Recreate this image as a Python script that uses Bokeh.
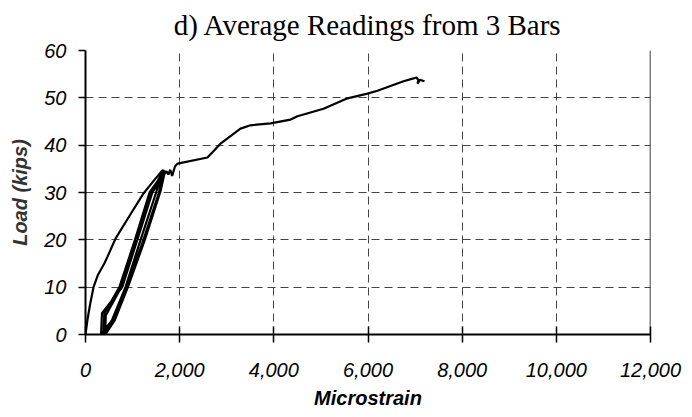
from bokeh.plotting import figure
from bokeh.models import Range1d, FixedTicker, NumeralTickFormatter, Span
from bokeh.embed import file_html
from bokeh.resources import INLINE

# Data (microstrain, load in kips)
strain = [0, 40, 100, 170, 260, 400, 470, 640, 900, 1232, 1450, 1593, 1640,
          1500, 1170, 850, 560, 330,
          350, 780, 1100, 1400, 1660,
          1560, 1230, 880, 600, 380,
          400, 720, 1050, 1360, 1690,
          1600, 1260, 900, 620, 420,
          430, 760, 1100, 1420, 1720,
          1760, 1800, 1840, 1900, 1954, 2591, 2867, 3292, 3504, 3929, 4354,
          4502, 5055, 5565, 5989, 6201, 6754, 6966, 7030, 7072, 7051, 7100, 7200]
load = [0, 3, 6.5, 10, 12.5, 15, 16.5, 20.3, 24.5, 29.8, 32.5, 34.2, 34.7,
        30, 20, 10, 3, 0,
        4.5, 10, 20, 30, 34.8,
        30, 20, 10, 3, 0,
        4.5, 10, 20, 30, 34.6,
        30.5, 20, 10, 3, 0,
        4, 10, 20, 30, 34.5,
        33.8, 34.8, 33.5, 35.5, 36.1, 37.4, 40.3, 43.5, 44.2, 44.6, 45.4,
        46.1, 47.7, 49.9, 50.9, 51.5, 53.5, 54.1, 54.3, 53.7, 53.0, 53.8, 53.5]

x_ticks = [0, 2000, 4000, 6000, 8000, 10000, 12000]
y_ticks = [0, 10, 20, 30, 40, 50, 60]
title_text = "d) Average Readings from 3 Bars"

p = figure(width=690, height=416, output_backend="svg", toolbar_location=None,
           x_range=Range1d(0, 12000), y_range=Range1d(0, 60),
           frame_width=565, frame_height=284,
           min_border_left=85, min_border_right=40, min_border_top=50, min_border_bottom=82,
           title=title_text)
p.outline_line_color = None
p.background_fill_color = "white"
p.border_fill_color = "white"

p.title.align = "center"
p.title.vertical_align = "top"
p.title.text_font = "Liberation Serif"
p.title.text_font_style = "normal"
p.title.text_font_size = "29px"
p.title.text_color = "black"
p.title.offset = 0
p.title.standoff = 15

p.line(strain, load, line_color="black", line_width=2.2)

for ax in (p.xaxis[0], p.yaxis[0]):
    ax.axis_line_color = "black"
    ax.axis_line_width = 2
    ax.major_tick_line_color = "black"
    ax.major_tick_line_width = 1.5
    ax.minor_tick_line_color = None
    ax.major_label_text_font = "Liberation Sans"
    ax.major_label_text_font_style = "italic"
    ax.major_label_text_font_size = "20px"
    ax.major_label_text_color = "black"
    ax.axis_label_text_font = "Liberation Sans"
    ax.axis_label_text_font_style = "bold italic"
    ax.axis_label_text_color = "black"

p.xaxis.ticker = FixedTicker(ticks=x_ticks)
p.xaxis.formatter = NumeralTickFormatter(format="0,0")
p.xaxis.major_tick_in = 8
p.xaxis.major_tick_out = 8
p.xaxis.major_label_standoff = 20
p.xaxis.axis_label = "Microstrain"
p.xaxis.axis_label_text_font_size = "20px"
p.xaxis.axis_label_standoff = 7

p.yaxis.ticker = FixedTicker(ticks=y_ticks)
p.yaxis.major_tick_in = 0
p.yaxis.major_tick_out = 7
p.yaxis.major_label_standoff = 12
p.yaxis.axis_label = "Load (kips)"
p.yaxis.axis_label_text_font_size = "20px"
p.yaxis.axis_label_text_color = "#333333"
p.yaxis.axis_label_standoff = 10

for g in (p.xgrid[0], p.ygrid[0]):
    g.grid_line_color = "#444444"
    g.grid_line_width = 1
    g.grid_line_dash = "8 5"
p.xgrid.ticker = FixedTicker(ticks=x_ticks)
p.ygrid.ticker = FixedTicker(ticks=y_ticks)

p.add_layout(Span(location=12000, dimension="height", line_color="black", line_width=1.5))

open("out.html", "w").write(file_html(p, INLINE))
